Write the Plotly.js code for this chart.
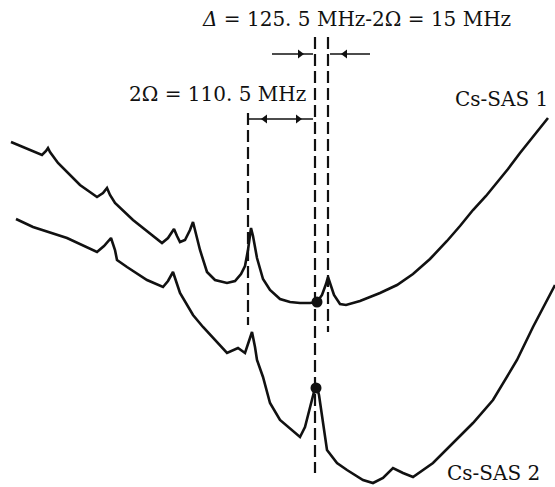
<!DOCTYPE html>
<html>
<head>
<meta charset="utf-8">
<script src="https://cdn.plot.ly/plotly-3.0.1.min.js"></script>
<style>html,body{margin:0;padding:0;background:#fff;}#chart{width:555px;height:487px;}</style>
</head>
<body>
<div id="chart"></div>
<script>
// Cs-SAS 1 spectrum (upper trace) (frequency axis -> x, signal -> y, screen units)
const sas1X = [11,25,42,46,48,50,58,80,97,103,107,110,115,133,150,162,168,174,177,180,185,190,193,196,200,207,215,227,235,241,245,248,250,251,253,257,263,270,280,290,300,310,317,322,326,328,330,334,340,346,360,380,397,413,430,447,460,473,486,497,508,520,534,548];
const sas1Y = [142,148,155,151,148,152,163,185,197,193,188,195,203,220,233,243,238,229,236,242,240,230,222,235,250,272,280,283,281,274,266,250,235,228,236,258,279,290,299,302,303,303,302,295,284,277,283,295,304,305,301,293,285,274,259,241,226,210,196,183,169,153,136,118];
// Cs-SAS 2 spectrum (lower trace)
const sas2X = [16,33,67,97,104,111,115,117,127,147,163,168,173,176,180,193,203,227,238,245,249,252,255,257,263,270,280,297,300,305,310,314,316,319,323,327,337,347,363,373,383,393,403,413,433,453,473,493,517,533,555];
const sas2Y = [219,227,238,252,246,238,250,260,267,280,287,281,272,282,293,315,327,353,348,353,341,332,347,360,377,403,420,435,437,427,407,390,384,395,425,450,463,470,480,483,478,468,473,477,463,443,423,400,360,327,285];
// Marked points (filled dots)
const dotX = [317, 316];
const dotY = [302, 388];
// Vertical dashed guide lines
const guideX = [248, 315, 328];
const guideTop = [113, 37, 37];
const guideBottom = [325, 473, 332];
// Dimension arrows: segments [x0, x1, y] and arrowheads
const segX0 = [272, 330, 248];
const segX1 = [313, 370, 313];
const segY = [54, 54, 119];
const headX = [300, 345, 265, 298];
const headY = [54, 54, 119, 119];
const headDir = ['triangle-right', 'triangle-left', 'triangle-left', 'triangle-right'];
// Labels
const labels = [
  {text: '<i>Δ</i> = 125. 5 MHz-2Ω = 15 MHz', x: 356, y: 19, anchor: 'center'},
  {text: '2Ω = 110. 5 MHz', x: 308, y: 94, anchor: 'right'},
  {text: 'Cs-SAS 1', x: 453, y: 99, anchor: 'left'},
  {text: 'Cs-SAS 2', x: 445, y: 473, anchor: 'left'}
];

const ink = '#111';
const traces = [
  {x: sas1X, y: sas1Y, mode: 'lines', line: {color: ink, width: 2.6}, hoverinfo: 'skip'},
  {x: sas2X, y: sas2Y, mode: 'lines', line: {color: ink, width: 2.6}, hoverinfo: 'skip'},
  {x: dotX, y: dotY, mode: 'markers', marker: {color: ink, size: 11}, hoverinfo: 'skip'},
  {x: headX, y: headY, mode: 'markers', marker: {color: ink, size: 8, symbol: headDir}, hoverinfo: 'skip'}
];

const shapes = [];
guideX.forEach((gx, i) => shapes.push({type: 'line', xref: 'x', yref: 'y', x0: gx, x1: gx, y0: guideTop[i], y1: guideBottom[i], line: {color: ink, width: 2.2, dash: '12px,5px'}}));
segX0.forEach((sx, i) => shapes.push({type: 'line', xref: 'x', yref: 'y', x0: sx, x1: segX1[i], y0: segY[i], y1: segY[i], line: {color: ink, width: 1.5}}));

const annotations = labels.map(l => ({
  text: l.text, x: l.x, y: l.y, xref: 'x', yref: 'y', showarrow: false,
  xanchor: l.anchor, yanchor: 'middle',
  font: {family: 'DejaVu Serif', size: 20, color: ink}
}));

const layout = {
  width: 555, height: 487,
  margin: {l: 0, r: 0, t: 0, b: 0},
  paper_bgcolor: '#fff', plot_bgcolor: '#fff',
  showlegend: false,
  xaxis: {range: [0, 555], visible: false, fixedrange: true},
  yaxis: {range: [487, 0], visible: false, fixedrange: true},
  shapes: shapes,
  annotations: annotations
};

Plotly.newPlot('chart', traces, layout, {staticPlot: true, displayModeBar: false});
</script>
</body>
</html>
